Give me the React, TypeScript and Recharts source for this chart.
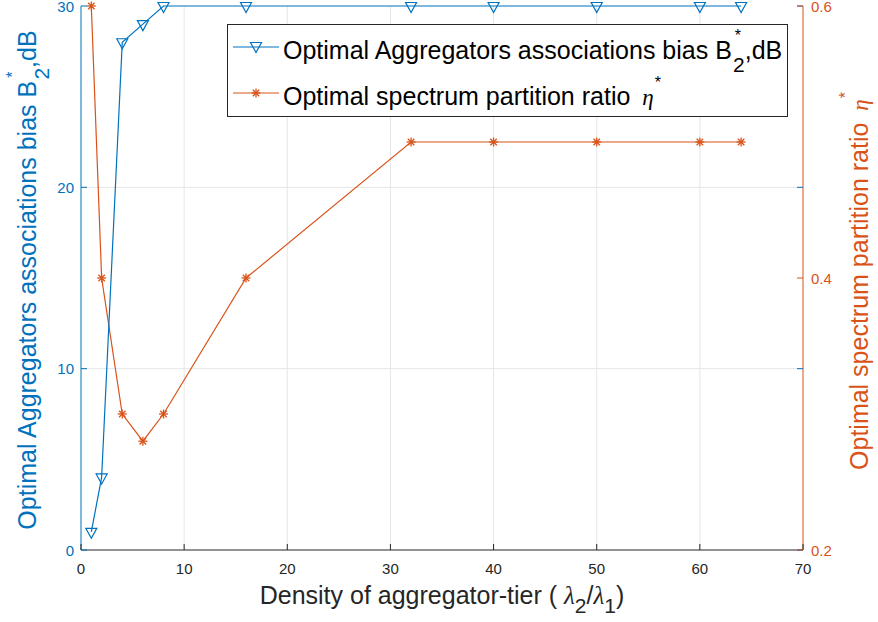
import React from 'react';
import { LineChart, Line, XAxis, YAxis, CartesianGrid } from 'recharts';

// Aggregator-tier density ratio (lambda2 / lambda1)
const DENSITY = [1, 2, 4, 6, 8, 16, 32, 40, 50, 60, 64];
// Optimal association bias B*_2 in dB (left axis)
const BIAS_DB = [1, 4, 28, 29, 30, 30, 30, 30, 30, 30, 30];
// Optimal spectrum partition ratio eta* (right axis)
const ETA = [0.6, 0.4, 0.3, 0.28, 0.3, 0.4, 0.5, 0.5, 0.5, 0.5, 0.5];

const X_TICKS = [0, 10, 20, 30, 40, 50, 60, 70];
const BIAS_TICKS = [0, 10, 20, 30];
const ETA_TICKS = [0.2, 0.4, 0.6];

const data = DENSITY.map((x, i) => ({ x, bias: BIAS_DB[i], eta: ETA[i] }));

const BLUE = '#0072BD';
const ORANGE = '#D95319';
const DARK = '#262626';
const GRID = '#e6e6e6';
const FONT = '"Liberation Sans", Arial, Helvetica, sans-serif';
const SERIF = '"Liberation Serif", "DejaVu Serif", serif';

const W = 878;
const H = 622;
const PLOT_LEFT = 81;
const PLOT_RIGHT = 803;
const PLOT_TOP = 6;
const PLOT_BOTTOM = 550;
const TICK_LEN = 6;
const TICK_FONT = 15;
const LABEL_FONT = 25;

const XTick = (props: any) => {
  const { x, y, payload } = props;
  return (
    <g>
      <line x1={x} x2={x} y1={y} y2={y - TICK_LEN} stroke={DARK} />
      <text x={x} y={y + 24} textAnchor="middle" fill={DARK} fontSize={TICK_FONT} fontFamily={FONT}>
        {payload.value}
      </text>
    </g>
  );
};

const BiasTick = (props: any) => {
  const { x, y, payload } = props;
  return (
    <g>
      <line x1={x} x2={x + TICK_LEN} y1={y} y2={y} stroke={BLUE} />
      <line x1={PLOT_RIGHT} x2={PLOT_RIGHT - TICK_LEN} y1={y} y2={y} stroke={BLUE} />
      <text x={x - 7} y={y + 5.5} textAnchor="end" fill={BLUE} fontSize={TICK_FONT} fontFamily={FONT}>
        {payload.value}
      </text>
    </g>
  );
};

const EtaTick = (props: any) => {
  const { x, y, payload } = props;
  return (
    <g>
      <line x1={x} x2={x - TICK_LEN} y1={y} y2={y} stroke={ORANGE} />
      <text x={x + 8} y={y + 5.5} textAnchor="start" fill={ORANGE} fontSize={TICK_FONT} fontFamily={FONT}>
        {Number(payload.value).toFixed(1)}
      </text>
    </g>
  );
};

// Downward triangle centred on its centroid
const TriangleDown = ({ cx, cy, color }: { cx: number; cy: number; color: string }) => (
  <path
    d={`M${cx - 5.5},${cy - 3.5} L${cx + 5.5},${cy - 3.5} L${cx},${cy + 6.5} Z`}
    fill="none"
    stroke={color}
    strokeWidth={1.2}
  />
);

const Asterisk = ({ cx, cy, color }: { cx: number; cy: number; color: string }) => {
  const r = 4.5;
  const d = r * 0.72;
  return (
    <g stroke={color} strokeWidth={1.3}>
      <line x1={cx - r} x2={cx + r} y1={cy} y2={cy} />
      <line x1={cx} x2={cx} y1={cy - r} y2={cy + r} />
      <line x1={cx - d} x2={cx + d} y1={cy - d} y2={cy + d} />
      <line x1={cx - d} x2={cx + d} y1={cy + d} y2={cy - d} />
    </g>
  );
};

// Legend box geometry
const LEG_X = 227;
const LEG_Y = 24;
const LEG_W = 560;
const LEG_H = 92;

export default function App() {
  return (
    <div style={{ position: 'absolute', left: 0, top: 0, width: W, height: H, background: '#fff' }}>
      <LineChart width={W} height={H} data={data} margin={{ top: PLOT_TOP, right: 0, bottom: 0, left: 0 }}>
        <CartesianGrid
          yAxisId="left"
          stroke={GRID}
          strokeWidth={1}
          horizontalValues={[10, 20]}
          verticalValues={[10, 20, 30, 40, 50, 60]}
        />
        <XAxis
          dataKey="x"
          type="number"
          domain={[0, 70]}
          ticks={X_TICKS}
          interval={0}
          height={H - PLOT_BOTTOM}
          tickSize={0}
          tickMargin={0}
          tickLine={false}
          axisLine={{ stroke: DARK, strokeWidth: 1 }}
          tick={<XTick />}
        />
        <XAxis
          xAxisId="top"
          orientation="top"
          dataKey="x"
          type="number"
          domain={[0, 70]}
          height={0}
          tick={false}
          tickLine={false}
          axisLine={{ stroke: '#8c8c8c', strokeWidth: 1 }}
        />
        <YAxis
          yAxisId="left"
          type="number"
          domain={[0, 30]}
          ticks={BIAS_TICKS}
          interval={0}
          width={PLOT_LEFT}
          tickSize={0}
          tickMargin={0}
          tickLine={false}
          axisLine={{ stroke: BLUE, strokeWidth: 1 }}
          tick={<BiasTick />}
        />
        <YAxis
          yAxisId="right"
          orientation="right"
          type="number"
          domain={[0.2, 0.6]}
          ticks={ETA_TICKS}
          interval={0}
          width={W - PLOT_RIGHT}
          tickSize={0}
          tickMargin={0}
          tickLine={false}
          axisLine={{ stroke: ORANGE, strokeWidth: 1 }}
          tick={<EtaTick />}
        />
        <Line
          yAxisId="right"
          dataKey="eta"
          stroke={ORANGE}
          strokeWidth={1.2}
          isAnimationActive={false}
          dot={(p: any) => <Asterisk key={`e${p.index}`} cx={p.cx} cy={p.cy} color={ORANGE} />}
        />
        <Line
          yAxisId="left"
          dataKey="bias"
          stroke={BLUE}
          strokeWidth={1.2}
          isAnimationActive={false}
          dot={(p: any) => <TriangleDown key={`b${p.index}`} cx={p.cx} cy={p.cy} color={BLUE} />}
        />
      </LineChart>

      <svg width={W} height={H} style={{ position: 'absolute', left: 0, top: 0, pointerEvents: 'none' }}>
        {/* Left axis title */}
        <text
          transform={`translate(36, ${(PLOT_TOP + PLOT_BOTTOM) / 2 + 2}) rotate(-90)`}
          textAnchor="middle"
          fill={BLUE}
          fontSize={LABEL_FONT}
          fontFamily={FONT}
        >
          <tspan>Optimal Aggregators associations bias B</tspan>
          <tspan dx={3} dy={-18} fontSize={16}>*</tspan>
          <tspan dx={-8} dy={31} fontSize={21}>2</tspan>
          <tspan dy={-13}>,dB</tspan>
        </text>

        {/* Right axis title */}
        <text
          transform={`translate(868, ${(PLOT_TOP + PLOT_BOTTOM) / 2 + 3}) rotate(-90)`}
          textAnchor="middle"
          fill={ORANGE}
          fontSize={LABEL_FONT}
          fontFamily={FONT}
        >
          <tspan>Optimal spectrum partition ratio </tspan>
          <tspan fontFamily={SERIF} fontStyle="italic" fontSize={23} dx={5}>η</tspan>
          <tspan dy={-17} dx={1} fontSize={16}>*</tspan>
        </text>

        {/* Bottom axis title */}
        <text x={(PLOT_LEFT + PLOT_RIGHT) / 2} y={604} textAnchor="middle" fill={DARK} fontSize={LABEL_FONT} fontFamily={FONT}>
          <tspan>Density of aggregator-tier ( </tspan>
          <tspan fontFamily={SERIF} fontStyle="italic">λ</tspan>
          <tspan dy={9} fontSize={21}>2</tspan>
          <tspan dy={-9}>/</tspan>
          <tspan fontFamily={SERIF} fontStyle="italic">λ</tspan>
          <tspan dy={9} fontSize={21}>1</tspan>
          <tspan dy={-9}>)</tspan>
        </text>

        {/* Legend */}
        <rect x={LEG_X + 0.5} y={LEG_Y + 0.5} width={LEG_W} height={LEG_H} fill="#fff" stroke={DARK} strokeWidth={1} />
        <line x1={LEG_X + 6} x2={LEG_X + 52} y1={47} y2={47} stroke={BLUE} strokeWidth={1.2} />
        <TriangleDown cx={LEG_X + 29} cy={46} color={BLUE} />
        <text x={LEG_X + 56} y={59} fill="#000" fontSize={LABEL_FONT} fontFamily={FONT}>
          <tspan>Optimal Aggregators associations bias B</tspan>
          <tspan dx={3} dy={-18} fontSize={16}>*</tspan>
          <tspan dx={-8} dy={31} fontSize={21}>2</tspan>
          <tspan dy={-13}>,dB</tspan>
        </text>
        <line x1={LEG_X + 6} x2={LEG_X + 52} y1={93} y2={93} stroke={ORANGE} strokeWidth={1.2} />
        <Asterisk cx={LEG_X + 29} cy={93} color={ORANGE} />
        <text x={LEG_X + 56} y={105} fill="#000" fontSize={LABEL_FONT} fontFamily={FONT}>
          <tspan>Optimal spectrum partition ratio </tspan>
          <tspan fontFamily={SERIF} fontStyle="italic" fontSize={23} dx={5}>η</tspan>
          <tspan dy={-17} dx={1} fontSize={16}>*</tspan>
        </text>
      </svg>
    </div>
  );
}
